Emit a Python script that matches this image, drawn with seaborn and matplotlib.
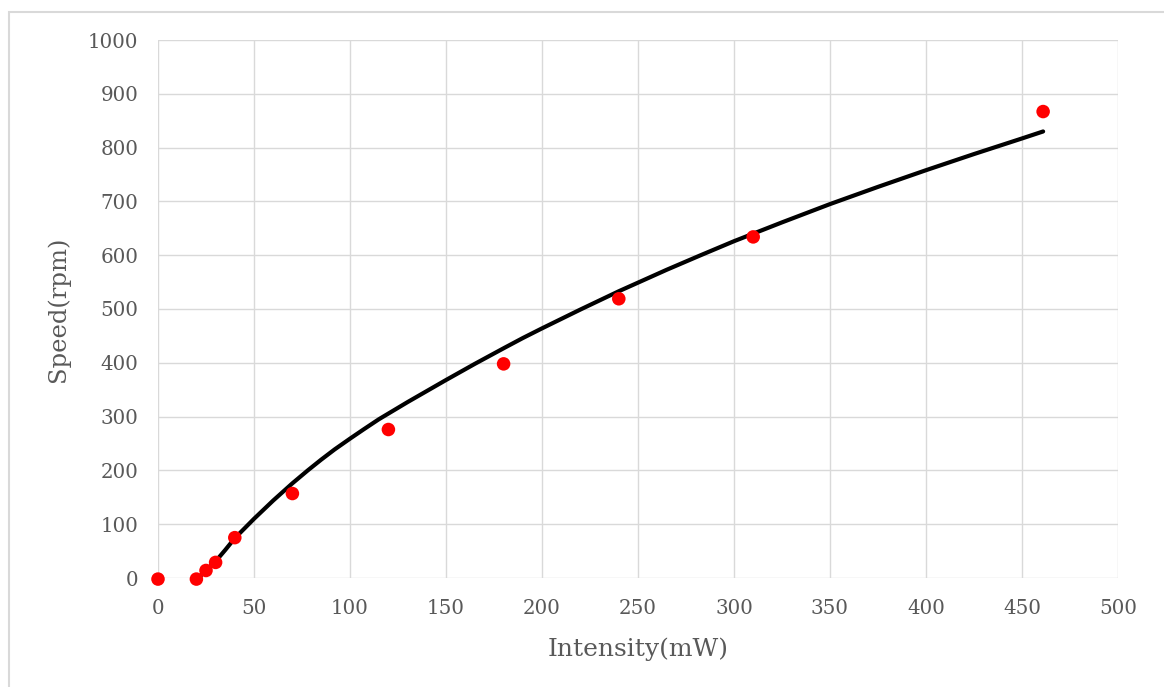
import matplotlib
matplotlib.use("Agg")
import matplotlib.pyplot as plt
import seaborn as sns
import pandas as pd
from matplotlib.patches import Rectangle

# measured data
intensity = [0, 20, 25, 30, 40, 70, 120, 180, 240, 310, 461]
speed = [-2, -2, 14, 29, 75, 157, 276, 398, 519, 634, 867]

# fitted curve
fit_x = [21, 25, 30, 35, 40, 45, 50, 60, 70, 78, 85, 92, 100, 107, 115, 130, 150,
         165, 180, 190, 200, 220, 240, 250, 265, 282, 300, 325, 350, 375, 400, 425, 450, 461]
fit_y = [0, 14, 31, 52, 74, 92, 110, 144, 176, 200, 220, 239, 259, 276, 295, 327, 368,
         398, 427, 446, 464, 499, 533, 549, 573, 599, 626, 661, 695, 727, 758, 788, 817, 830]

x_ticks = [0, 50, 100, 150, 200, 250, 300, 350, 400, 450, 500]
y_ticks = [0, 100, 200, 300, 400, 500, 600, 700, 800, 900, 1000]

sns.set_theme(style="white")
plt.rcParams['font.family'] = ['DejaVu Serif']

W, H = 1164, 687
fig = plt.figure(figsize=(W / 100, H / 100), dpi=100)
ax = fig.add_axes([158 / W, 1 - 578 / H, (1118 - 158) / W, (578 - 40) / H])

# outer border (left/top visible)
fig.patches.append(Rectangle((9 / W, -0.1), 1.2, 1 - 12 / H + 0.1, transform=fig.transFigure,
                             fill=False, edgecolor="#D9D9D9", linewidth=1.5, zorder=0))

df_pts = pd.DataFrame({"Intensity": intensity, "Speed": speed})
df_fit = pd.DataFrame({"Intensity": fit_x, "Speed": fit_y})

sns.lineplot(data=df_fit, x="Intensity", y="Speed", ax=ax, color="black",
             linewidth=3.0, sort=False, zorder=2, solid_capstyle="round",
             solid_joinstyle="round")
sns.scatterplot(data=df_pts, x="Intensity", y="Speed", ax=ax, color="#FF0000",
                s=95, edgecolor="none", zorder=3, clip_on=False)

ax.set_xlim(0, 500)
ax.set_ylim(0, 1000)
ax.set_xticks(x_ticks)
ax.set_yticks(y_ticks)
ax.grid(True, color="#D9D9D9", linewidth=1.0)
ax.set_axisbelow(True)
for s in ax.spines.values():
    s.set_visible(False)
ax.tick_params(axis="both", length=0, labelsize=14.3, labelcolor="#595959")
ax.tick_params(axis="x", pad=15)
ax.tick_params(axis="y", pad=14)

ax.set_xlabel("Intensity(mW)", fontsize=18, color="#595959", labelpad=14)
ax.set_ylabel("Speed(rpm)", fontsize=17.5, color="#595959", labelpad=13)

fig.savefig("out.png", dpi=100)
